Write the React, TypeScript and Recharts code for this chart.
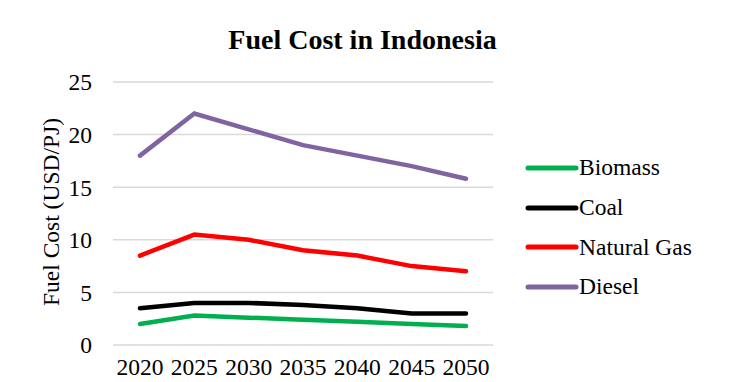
import React from "react";
import { CartesianGrid, Line, LineChart, XAxis, YAxis } from "recharts";

const years = ["2020", "2025", "2030", "2035", "2040", "2045", "2050"];
const biomass = [2.0, 2.8, 2.6, 2.4, 2.2, 2.0, 1.8];
const coal = [3.5, 4.0, 4.0, 3.8, 3.5, 3.0, 3.0];
const naturalGas = [8.5, 10.5, 10.0, 9.0, 8.5, 7.5, 7.0];
const diesel = [18.0, 22.0, 20.5, 19.0, 18.0, 17.0, 15.8];
const yTicks = [0, 5, 10, 15, 20, 25];

const series = [
  { key: "Biomass", values: biomass, color: "#00B050" },
  { key: "Coal", values: coal, color: "#000000" },
  { key: "Natural Gas", values: naturalGas, color: "#FF0000" },
  { key: "Diesel", values: diesel, color: "#8064A2" },
];

const data = years.map((year, i) => {
  const row: Record<string, string | number> = { year };
  series.forEach((s) => (row[s.key] = s.values[i]));
  return row;
});

const font = "'Liberation Serif', 'Times New Roman', serif";
const fs = 23.5;

export default function App() {
  return (
    <div style={{ position: "absolute", left: 0, top: 0, width: 738, height: 382, background: "#fff", fontFamily: font }}>
      <div
        style={{
          position: "absolute",
          top: 23,
          left: 0,
          width: 725,
          textAlign: "center",
          fontWeight: "bold",
          fontSize: 28,
          lineHeight: "34px",
          color: "#000",
        }}
      >
        Fuel Cost in Indonesia
      </div>
      <LineChart width={738} height={382} data={data} margin={{ top: 82, right: 245, bottom: 0, left: 53 }}>
        <CartesianGrid vertical={false} stroke="#d9d9d9" strokeWidth={1.5} />
        <XAxis
          dataKey="year"
          axisLine={false}
          tickLine={false}
          height={37}
          padding={{ left: 27, right: 27 }}
          tickMargin={7}
          tick={{ fill: "#000", fontSize: fs, fontFamily: font }}
          interval={0}
        />
        <YAxis
          width={60}
          domain={[0, 25]}
          ticks={yTicks}
          axisLine={false}
          tickLine={false}
          tickMargin={15}
          tick={{ fill: "#000", fontSize: fs, fontFamily: font }}
          label={{
            content: () => (
              <text
                x={51}
                y={212}
                transform="rotate(-90 51 212)"
                textAnchor="middle"
                dominantBaseline="central"
                fontSize={fs}
                fontFamily={font}
                fill="#000"
              >
                Fuel Cost (USD/PJ)
              </text>
            ),
          }}
        />
        {series.map((s) => (
          <Line
            key={s.key}
            dataKey={s.key}
            stroke={s.color}
            strokeWidth={4.5}
            strokeLinecap="round"
            dot={false}
            activeDot={false}
            isAnimationActive={false}
          />
        ))}
      </LineChart>
      <div style={{ position: "absolute", left: 525, top: 148 }}>
        {series.map((s) => (
          <div key={s.key} style={{ display: "flex", alignItems: "center", height: 39.7, fontSize: fs, color: "#000" }}>
            <svg width={54} height={10}>
              <line x1={3} y1={5} x2={51} y2={5} stroke={s.color} strokeWidth={5} strokeLinecap="round" />
            </svg>
            <span>{s.key}</span>
          </div>
        ))}
      </div>
    </div>
  );
}
